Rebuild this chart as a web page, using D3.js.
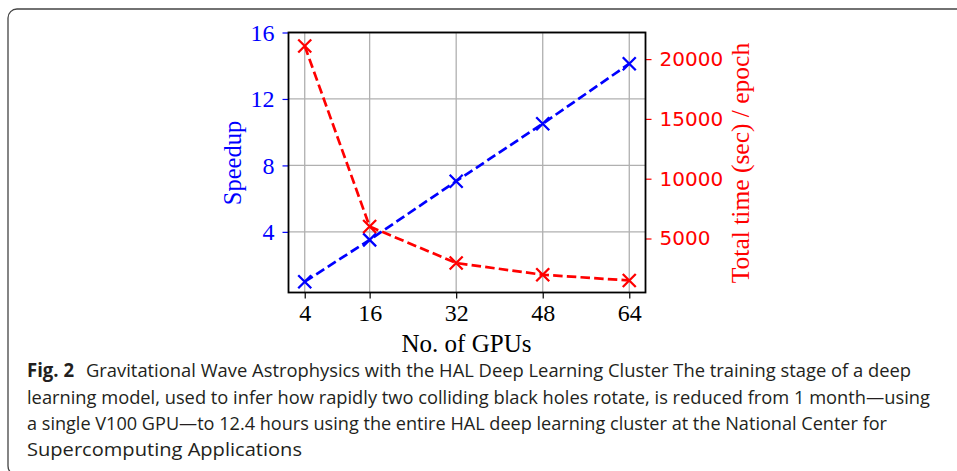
<!DOCTYPE html>
<html><head><meta charset="utf-8">
<script src="https://cdn.jsdelivr.net/npm/d3@7"></script>
<style>html,body{margin:0;padding:0;background:#fff;}svg{display:block;}</style>
</head><body>
<script>
const gpus = [4, 16, 32, 48, 64];
const speedup = [1.0, 3.52, 7.05, 10.51, 14.12];
const totalTime = [21100, 6000, 2950, 1970, 1490];
const xTicks = [4, 16, 32, 48, 64];
const speedTicks = [4, 8, 12, 16];
const timeTicks = [5000, 10000, 15000, 20000];
const captionBold = "Fig. 2";
const captionLines = [
  "Gravitational Wave Astrophysics with the HAL Deep Learning Cluster The training stage of a deep",
  "learning model, used to infer how rapidly two colliding black holes rotate, is reduced from 1 month\u2014using",
  "a single V100 GPU\u2014to 12.4 hours using the entire HAL deep learning cluster at the National Center for",
  "Supercomputing Applications"
];

const W = 957, H = 471;
const svg = d3.select("body").append("svg").attr("width", W).attr("height", H);

// frame border
svg.append("rect").attr("x", 8).attr("y", 9).attr("width", 1000).attr("height", 466)
  .attr("rx", 9).attr("fill", "none").attr("stroke", "#444").attr("stroke-width", 1.3);

const L = 288.5, R = 645.5, T = 32.5, B = 292.5;
const x = d3.scaleLinear().domain([1, 67]).range([L, R]);
const yL = d3.scaleLinear().domain([0.35, 16]).range([B, T]);
const yR = d3.scaleLinear().domain([485, 22224]).range([B, T]);

const serif = "'Liberation Serif', 'Times New Roman', serif";

// grid
const g = svg.append("g");
g.selectAll(".gx").data(xTicks).join("line")
  .attr("x1", d => x(d)).attr("x2", d => x(d)).attr("y1", T).attr("y2", B)
  .attr("stroke", "#b0b0b0").attr("stroke-width", 1.3);
g.selectAll(".gy").data(speedTicks).join("line")
  .attr("x1", L).attr("x2", R).attr("y1", d => yL(d)).attr("y2", d => yL(d))
  .attr("stroke", "#b0b0b0").attr("stroke-width", 1.3);

// axes
const xAxis = svg.append("g").attr("transform", `translate(0,${B})`)
  .call(d3.axisBottom(x).tickValues(xTicks).tickSize(6).tickPadding(5).tickSizeOuter(0));
xAxis.select(".domain").remove();
xAxis.selectAll("line").attr("stroke", "#000").attr("stroke-width", 1.2);
xAxis.selectAll("text").attr("font-family", serif).attr("font-size", 24).attr("fill", "#000");

const lAxis = svg.append("g").attr("transform", `translate(${L},0)`)
  .call(d3.axisLeft(yL).tickValues(speedTicks).tickSize(6).tickPadding(8).tickSizeOuter(0));
lAxis.select(".domain").remove();
lAxis.selectAll("line").attr("stroke", "blue").attr("stroke-width", 1.2);
lAxis.selectAll("text").attr("font-family", serif).attr("font-size", 24).attr("fill", "blue");

const rAxis = svg.append("g").attr("transform", `translate(${R},0)`)
  .call(d3.axisRight(yR).tickValues(timeTicks).tickFormat(d3.format("d")).tickSize(6).tickPadding(8).tickSizeOuter(0));
rAxis.select(".domain").remove();
rAxis.selectAll("line").attr("stroke", "red").attr("stroke-width", 1.2);
rAxis.selectAll("text").attr("font-family", "'DejaVu Sans', sans-serif").attr("font-size", 20).attr("fill", "red");

// series
function series(vals, yScale, color) {
  const pts = gpus.map((d, i) => [x(d), yScale(vals[i])]);
  svg.append("path").attr("d", d3.line()(pts)).attr("fill", "none")
    .attr("stroke", color).attr("stroke-width", 2.7).attr("stroke-dasharray", "9.5,4.2");
  const s = 6.5;
  svg.append("g").selectAll("path").data(pts).join("path")
    .attr("d", p => `M${p[0]-s},${p[1]-s}L${p[0]+s},${p[1]+s}M${p[0]-s},${p[1]+s}L${p[0]+s},${p[1]-s}`)
    .attr("stroke", color).attr("stroke-width", 2.3).attr("fill", "none");
}
series(speedup, yL, "blue");
series(totalTime, yR, "red");

// plot frame
svg.append("rect").attr("x", L).attr("y", T).attr("width", R - L).attr("height", B - T)
  .attr("fill", "none").attr("stroke", "#000").attr("stroke-width", 1.8);

// axis labels
svg.append("text").attr("x", 466.5).attr("y", 352).attr("text-anchor", "middle")
  .attr("font-family", serif).attr("font-size", 25).attr("fill", "#000").text("No. of GPUs");
svg.append("text").attr("transform", "translate(241,163) rotate(-90)").attr("text-anchor", "middle")
  .attr("font-family", serif).attr("font-size", 24.5).attr("fill", "blue").text("Speedup");
svg.append("text").attr("transform", "translate(749,163) rotate(-90)").attr("text-anchor", "middle")
  .attr("font-family", serif).attr("font-size", 25.5).attr("fill", "red").text("Total time (sec) / epoch");

// caption
const capFont = "'Open Sans', 'Noto Sans', sans-serif";
svg.append("text").attr("x", 27).attr("y", 377).attr("font-family", capFont).attr("font-weight", "bold")
  .attr("font-size", 19).attr("fill", "#231f20").attr("textLength", 47).attr("lengthAdjust", "spacingAndGlyphs")
  .text(captionBold);
const lineX = [86, 27, 27, 27];
const lineEnd = [911, 930, 887, 302];
const lineY = [377, 404, 430, 456];
captionLines.forEach((t, i) => {
  svg.append("text").attr("x", lineX[i]).attr("y", lineY[i]).attr("font-family", capFont)
    .attr("font-size", 18).attr("fill", "#231f20")
    .attr("textLength", lineEnd[i] - lineX[i]).attr("lengthAdjust", "spacingAndGlyphs").text(t);
});
</script>
</body></html>
